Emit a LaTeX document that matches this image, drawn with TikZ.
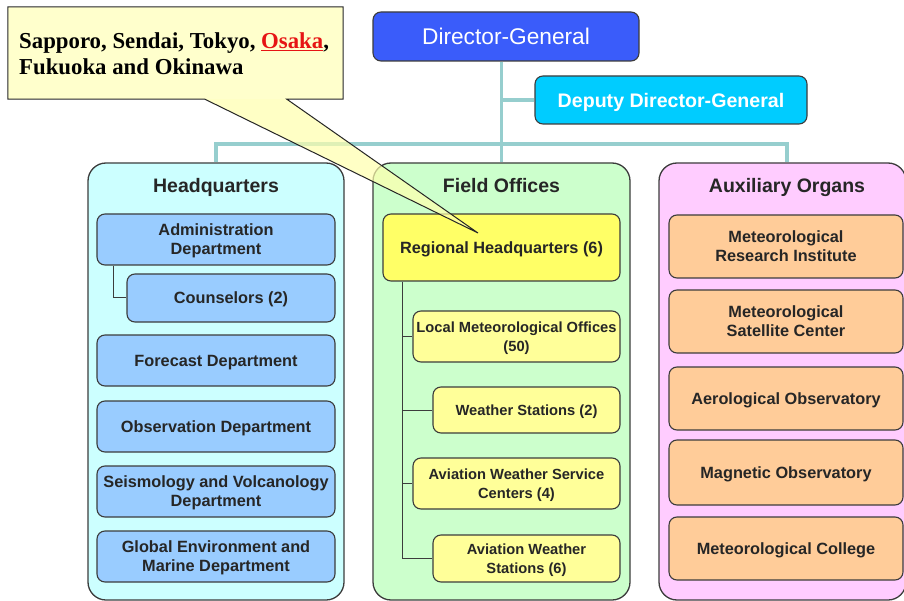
\documentclass[tikz,border=0pt]{standalone}
\usepackage{fontspec}
\setmainfont{Liberation Sans}
\newfontfamily\calloutfont{Liberation Serif}
\usetikzlibrary{calc}
\definecolor{dgblue}{RGB}{58,92,250}
\definecolor{depblue}{RGB}{0,204,255}
\definecolor{teal2}{RGB}{150,206,206}
\definecolor{linec}{RGB}{60,60,60}
\definecolor{hqpanel}{RGB}{204,255,255}
\definecolor{hqbox}{RGB}{153,204,255}
\definecolor{fopanel}{RGB}{204,255,204}
\definecolor{rhqfill}{RGB}{255,255,102}
\definecolor{fobox}{RGB}{255,255,153}
\definecolor{auxpanel}{RGB}{255,204,255}
\definecolor{auxbox}{RGB}{255,204,153}
\definecolor{callfill}{RGB}{255,255,204}
\definecolor{osakared}{RGB}{230,20,20}
\tikzset{
  panel/.style={draw=linec, line width=1.3pt, rounded corners=18pt, inner sep=0pt},
  orgbox/.style={draw=linec, line width=1.1pt, rounded corners=8pt, align=center, inner sep=0pt,
    text depth=0pt, font=\fontsize{16.3}{19}\selectfont\bfseries, text=black!85},
  smallbox/.style={orgbox, font=\fontsize{14.7}{19}\selectfont\bfseries},
  ptitle/.style={font=\fontsize{19.5}{22}\selectfont\bfseries, text=black!85, inner sep=0pt, text depth=0pt},
  bus/.style={draw=teal2, line width=3.5pt},
  sub/.style={draw=linec, line width=1pt},
}
\begin{document}
\begin{tikzpicture}[x=1pt,y=-1pt]
\useasboundingbox (0,0) rectangle (904,601);
\fill[white] (0,0) rectangle (904,601);

% top level
\node[orgbox, fill=dgblue, minimum width=266, minimum height=49, text=white,
  font=\fontsize{22.7}{25}\selectfont] (dg) at (506,36.5) {Director-General};
\node[orgbox, fill=depblue, minimum width=272, minimum height=48, text=white,
  font=\fontsize{19.6}{22}\selectfont\bfseries] (dep) at (671,100) {Deputy Director-General};

% panels
\node[panel, fill=hqpanel, minimum width=256, minimum height=437] (hq) at (216,381.5) {};
\node[panel, fill=fopanel, minimum width=257, minimum height=437] (fo) at (501.5,381.5) {};
\node[panel, fill=auxpanel, minimum width=247, minimum height=437] (aux) at (782.5,381.5) {};

\node[ptitle] (hqt) at (216,185.5) {Headquarters};
\node[ptitle] (fot) at (501.5,185.5) {Field Offices};
\node[ptitle] (auxt) at (787,185.5) {Auxiliary Organs};

% connectors (teal)
\coordinate (busL) at (216,144);
\coordinate (busR) at (787,144);
\draw[bus] (dg.south -| fo.north) -- (fo.north);
\draw[bus] (dep.west) -- (dep.west -| fo.north);
\draw[bus] (hq.north) -- (busL) -- (busR) -- (busR |- aux.north);

% headquarters boxes
\node[orgbox, fill=hqbox, minimum width=238, minimum height=51] (adm) at (216,239.5) {Administration\\Department};
\node[orgbox, fill=hqbox, minimum width=208, minimum height=48] (cou) at (231,298) {Counselors (2)};
\node[orgbox, fill=hqbox, minimum width=238, minimum height=51] (fc) at (216,360.5) {Forecast Department};
\node[orgbox, fill=hqbox, minimum width=238, minimum height=51] (obs) at (216,426.5) {Observation Department};
\node[orgbox, fill=hqbox, minimum width=238, minimum height=51] (seis) at (216,491.5) {Seismology and Volcanology\\Department};
\node[orgbox, fill=hqbox, minimum width=238, minimum height=51] (glob) at (216,556.5) {Global Environment and\\Marine Department};
\draw[sub] ([xshift=17pt]adm.south west) |- (cou.west);

% field offices boxes
\node[orgbox, fill=rhqfill, minimum width=237, minimum height=67] (rhq) at (501.5,247.5) {Regional Headquarters (6)};
\node[smallbox, fill=fobox, minimum width=207, minimum height=51] (lmo) at (516.5,336.5) {Local Meteorological Offices\\(50)};
\node[smallbox, fill=fobox, minimum width=187, minimum height=46] (ws) at (526.5,410) {Weather Stations (2)};
\node[smallbox, fill=fobox, minimum width=207, minimum height=51] (awsc) at (516.5,483.5) {Aviation Weather Service\\Centers (4)};
\node[smallbox, fill=fobox, minimum width=187, minimum height=47] (aws) at (526.5,558.5) {Aviation Weather\\Stations (6)};
\coordinate (trunk) at ([xshift=20pt]rhq.south west);
\draw[sub] (trunk) |- (aws.west);
\draw[sub] (trunk |- lmo.west) -- (lmo.west);
\draw[sub] (trunk |- ws.west) -- (ws.west);
\draw[sub] (trunk |- awsc.west) -- (awsc.west);

% auxiliary organs boxes
\node[orgbox, fill=auxbox, minimum width=234, minimum height=63] (mri) at (786,246.5) {Meteorological\\Research Institute};
\node[orgbox, fill=auxbox, minimum width=234, minimum height=63] (msc) at (786,321.5) {Meteorological\\Satellite Center};
\node[orgbox, fill=auxbox, minimum width=234, minimum height=63] (aer) at (786,398.5) {Aerological Observatory};
\node[orgbox, fill=auxbox, minimum width=234, minimum height=65] (mag) at (786,472.5) {Magnetic Observatory};
\node[orgbox, fill=auxbox, minimum width=234, minimum height=63] (col) at (786,548.5) {Meteorological College};

% callout
\node[fill=callfill, minimum width=335, minimum height=92, inner sep=0pt] (callout) at (175.5,53) {};
\coordinate (tip) at (478,233);
\coordinate (tl) at ($(callout.south west)+(197,0)$);
\coordinate (tr) at ($(callout.south west)+(279,0)$);
\fill[callfill!85!yellow, opacity=0.7] (tl) -- (tip) -- (tr) -- cycle;
\draw[black!85, line width=1pt] (callout.south west) -- (tl) -- (tip) -- (tr) -- (callout.south east)
  -- (callout.north east) -- (callout.north west) -- cycle;
\node[anchor=west, align=left, inner sep=0pt, font=\calloutfont\bfseries\fontsize{22.8}{26}\selectfont]
  (ctext) at (19,54) {Sapporo, Sendai, Tokyo, \textcolor{osakared}{\underline{Osaka}},\\Fukuoka and Okinawa};
\end{tikzpicture}
\end{document}
